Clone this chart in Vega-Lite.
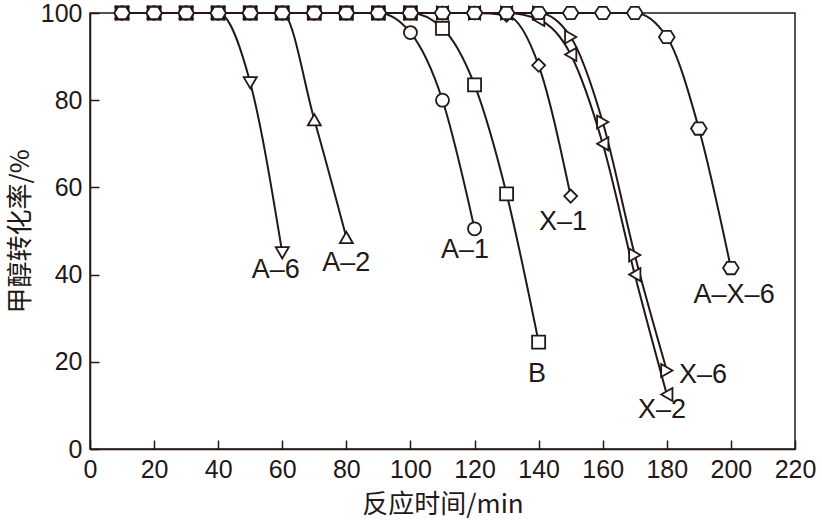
{
  "$schema": "https://vega.github.io/schema/vega-lite/v6.json",
  "width": 705,
  "height": 436,
  "autosize": {"type": "none"},
  "padding": {"left": 90, "top": 13, "right": 27, "bottom": 77},
  "background": "white",
  "datasets": {
    "conv": [
      {"series": "A-6", "t": 10, "v": 100}, {"series": "A-6", "t": 20, "v": 100}, {"series": "A-6", "t": 30, "v": 100}, {"series": "A-6", "t": 40, "v": 100}, {"series": "A-6", "t": 50, "v": 84}, {"series": "A-6", "t": 60, "v": 45},
      {"series": "A-2", "t": 10, "v": 100}, {"series": "A-2", "t": 20, "v": 100}, {"series": "A-2", "t": 30, "v": 100}, {"series": "A-2", "t": 40, "v": 100}, {"series": "A-2", "t": 50, "v": 100}, {"series": "A-2", "t": 60, "v": 100}, {"series": "A-2", "t": 70, "v": 75.5}, {"series": "A-2", "t": 80, "v": 48.5},
      {"series": "A-1", "t": 10, "v": 100}, {"series": "A-1", "t": 20, "v": 100}, {"series": "A-1", "t": 30, "v": 100}, {"series": "A-1", "t": 40, "v": 100}, {"series": "A-1", "t": 50, "v": 100}, {"series": "A-1", "t": 60, "v": 100}, {"series": "A-1", "t": 70, "v": 100}, {"series": "A-1", "t": 80, "v": 100}, {"series": "A-1", "t": 90, "v": 100}, {"series": "A-1", "t": 100, "v": 95.5}, {"series": "A-1", "t": 110, "v": 80}, {"series": "A-1", "t": 120, "v": 50.5},
      {"series": "B", "t": 10, "v": 100}, {"series": "B", "t": 20, "v": 100}, {"series": "B", "t": 30, "v": 100}, {"series": "B", "t": 40, "v": 100}, {"series": "B", "t": 50, "v": 100}, {"series": "B", "t": 60, "v": 100}, {"series": "B", "t": 70, "v": 100}, {"series": "B", "t": 80, "v": 100}, {"series": "B", "t": 90, "v": 100}, {"series": "B", "t": 100, "v": 100}, {"series": "B", "t": 110, "v": 96.5}, {"series": "B", "t": 120, "v": 83.5}, {"series": "B", "t": 130, "v": 58.5}, {"series": "B", "t": 140, "v": 24.5},
      {"series": "X-1", "t": 10, "v": 100}, {"series": "X-1", "t": 20, "v": 100}, {"series": "X-1", "t": 30, "v": 100}, {"series": "X-1", "t": 40, "v": 100}, {"series": "X-1", "t": 50, "v": 100}, {"series": "X-1", "t": 60, "v": 100}, {"series": "X-1", "t": 70, "v": 100}, {"series": "X-1", "t": 80, "v": 100}, {"series": "X-1", "t": 90, "v": 100}, {"series": "X-1", "t": 100, "v": 100}, {"series": "X-1", "t": 110, "v": 100}, {"series": "X-1", "t": 120, "v": 100}, {"series": "X-1", "t": 130, "v": 99.5}, {"series": "X-1", "t": 140, "v": 88}, {"series": "X-1", "t": 150, "v": 58},
      {"series": "X-2", "t": 10, "v": 100}, {"series": "X-2", "t": 20, "v": 100}, {"series": "X-2", "t": 30, "v": 100}, {"series": "X-2", "t": 40, "v": 100}, {"series": "X-2", "t": 50, "v": 100}, {"series": "X-2", "t": 60, "v": 100}, {"series": "X-2", "t": 70, "v": 100}, {"series": "X-2", "t": 80, "v": 100}, {"series": "X-2", "t": 90, "v": 100}, {"series": "X-2", "t": 100, "v": 100}, {"series": "X-2", "t": 110, "v": 100}, {"series": "X-2", "t": 120, "v": 100}, {"series": "X-2", "t": 130, "v": 100}, {"series": "X-2", "t": 140, "v": 98.5}, {"series": "X-2", "t": 150, "v": 90.5}, {"series": "X-2", "t": 160, "v": 70}, {"series": "X-2", "t": 170, "v": 40}, {"series": "X-2", "t": 180, "v": 12.5},
      {"series": "X-6", "t": 10, "v": 100}, {"series": "X-6", "t": 20, "v": 100}, {"series": "X-6", "t": 30, "v": 100}, {"series": "X-6", "t": 40, "v": 100}, {"series": "X-6", "t": 50, "v": 100}, {"series": "X-6", "t": 60, "v": 100}, {"series": "X-6", "t": 70, "v": 100}, {"series": "X-6", "t": 80, "v": 100}, {"series": "X-6", "t": 90, "v": 100}, {"series": "X-6", "t": 100, "v": 100}, {"series": "X-6", "t": 110, "v": 100}, {"series": "X-6", "t": 120, "v": 100}, {"series": "X-6", "t": 130, "v": 100}, {"series": "X-6", "t": 140, "v": 100}, {"series": "X-6", "t": 150, "v": 94.5}, {"series": "X-6", "t": 160, "v": 75}, {"series": "X-6", "t": 170, "v": 44.5}, {"series": "X-6", "t": 180, "v": 18},
      {"series": "A-X-6", "t": 10, "v": 100}, {"series": "A-X-6", "t": 20, "v": 100}, {"series": "A-X-6", "t": 30, "v": 100}, {"series": "A-X-6", "t": 40, "v": 100}, {"series": "A-X-6", "t": 50, "v": 100}, {"series": "A-X-6", "t": 60, "v": 100}, {"series": "A-X-6", "t": 70, "v": 100}, {"series": "A-X-6", "t": 80, "v": 100}, {"series": "A-X-6", "t": 90, "v": 100}, {"series": "A-X-6", "t": 100, "v": 100}, {"series": "A-X-6", "t": 110, "v": 100}, {"series": "A-X-6", "t": 120, "v": 100}, {"series": "A-X-6", "t": 130, "v": 100}, {"series": "A-X-6", "t": 140, "v": 100}, {"series": "A-X-6", "t": 150, "v": 100}, {"series": "A-X-6", "t": 160, "v": 100}, {"series": "A-X-6", "t": 170, "v": 100}, {"series": "A-X-6", "t": 180, "v": 94.5}, {"series": "A-X-6", "t": 190, "v": 73.5}, {"series": "A-X-6", "t": 200, "v": 41.5}
    ],
    "labels": [
      {"label": "A–6", "t": 58, "v": 41},
      {"label": "A–2", "t": 80, "v": 42.7},
      {"label": "A–1", "t": 117, "v": 45.6},
      {"label": "B", "t": 139.5, "v": 17.2},
      {"label": "X–1", "t": 147.6, "v": 52},
      {"label": "X–2", "t": 178.5, "v": 9},
      {"label": "X–6", "t": 191.3, "v": 17},
      {"label": "A–X–6", "t": 201, "v": 35.3}
    ]
  },
  "config": {
    "view": {"stroke": "#231815", "strokeWidth": 1.5},
    "axis": {
      "domainColor": "#231815",
      "domainWidth": 1.5,
      "tickColor": "#231815",
      "tickWidth": 1.5,
      "tickSize": -9,
      "grid": false,
      "labelFont": "Liberation Sans",
      "labelFontSize": 25,
      "labelColor": "#231815",
      "titleFont": "Noto Sans CJK SC",
      "titleFontSize": 26,
      "titleFontWeight": "normal",
      "titleColor": "#231815"
    }
  },
  "layer": [
    {
      "data": {"name": "conv"},
      "mark": {"type": "line", "interpolate": "monotone", "color": "#231815", "strokeWidth": 2},
      "encoding": {
        "x": {"field": "t", "type": "quantitative", "scale": {"domain": [0, 220], "nice": false}, "axis": {"values": [0, 20, 40, 60, 80, 100, 120, 140, 160, 180, 200, 220], "title": "反应时间/min", "labelPadding": 17, "titlePadding": 9, "labelFlush": false}},
        "y": {"field": "v", "type": "quantitative", "scale": {"domain": [0, 100], "nice": false}, "axis": {"values": [0, 20, 40, 60, 80, 100], "title": "甲醇转化率/%", "labelPadding": 17, "titlePadding": 7, "labelFlush": false}},
        "detail": {"field": "series", "type": "nominal"}
      }
    },
    {
      "data": {"name": "conv"},
      "mark": {"type": "point", "filled": true, "fill": "white", "fillOpacity": 1, "stroke": "#231815", "strokeWidth": 1.8, "opacity": 1, "size": 170},
      "encoding": {
        "x": {"field": "t", "type": "quantitative"},
        "y": {"field": "v", "type": "quantitative"},
        "shape": {
          "field": "series", "type": "nominal", "legend": null,
          "scale": {
            "domain": ["A-6", "A-2", "A-1", "B", "X-1", "X-2", "X-6", "A-X-6"],
            "range": ["triangle-down", "triangle-up", "circle", "square", "diamond", "triangle-left", "triangle-right", "M-1.2,0L-0.6,-0.95L0.6,-0.95L1.2,0L0.6,0.95L-0.6,0.95Z"]
          }
        }
      }
    },
    {
      "data": {"name": "labels"},
      "mark": {"type": "text", "font": "Liberation Sans", "fontSize": 27, "color": "#231815", "align": "center", "baseline": "middle"},
      "encoding": {
        "x": {"field": "t", "type": "quantitative"},
        "y": {"field": "v", "type": "quantitative"},
        "text": {"field": "label"}
      }
    }
  ]
}
